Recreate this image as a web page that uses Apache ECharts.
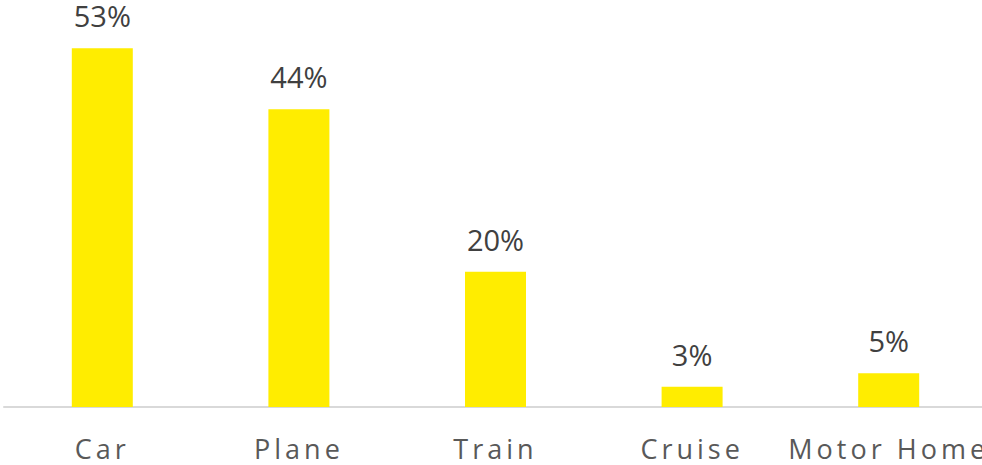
<!DOCTYPE html>
<html>
<head>
<meta charset="utf-8">
<script src="https://cdn.jsdelivr.net/npm/echarts@6/dist/echarts.min.js"></script>
<style>
  html, body { margin: 0; padding: 0; background: #fff; overflow: hidden; }
  #chart { width: 992px; height: 465px; }
</style>
</head>
<body>
<div id="chart"></div>
<script>
// Share of travellers by mode of transport (%)
const categories = ['Car', 'Plane', 'Train', 'Cruise', 'Motor Home'];
const shares = [53, 44, 20, 3, 5];

const chart = echarts.init(document.getElementById('chart'), null, { renderer: 'svg' });

chart.setOption({
  animation: false,
  grid: { left: 4, right: 5, top: 1, bottom: 58 },
  xAxis: {
    type: 'category',
    data: categories,
    axisLine: { lineStyle: { color: '#d9d9d9', width: 2 } },
    axisTick: { show: false },
    axisLabel: {
      color: '#595959',
      fontFamily: 'Open Sans',
      fontSize: 27,
      margin: 28,
      interval: 0
    }
  },
  yAxis: {
    type: 'value',
    min: 0,
    max: 60,
    show: false,
    splitLine: { show: false }
  },
  series: [{
    type: 'bar',
    data: shares,
    barWidth: 61,
    itemStyle: { color: '#ffed00' },
    label: {
      show: true,
      position: 'top',
      distance: 18,
      color: '#404040',
      fontFamily: 'Open Sans',
      fontSize: 29,
      formatter: p => p.value + '%'
    }
  }]
});

// Widen the tracking of the category names
function spaceCategoryLabels() {
  document.querySelectorAll('#chart text').forEach(t => {
    if (categories.includes(t.textContent)) {
      t.style.letterSpacing = '4px';
    }
  });
}
spaceCategoryLabels();
chart.on('finished', spaceCategoryLabels);
</script>
</body>
</html>
